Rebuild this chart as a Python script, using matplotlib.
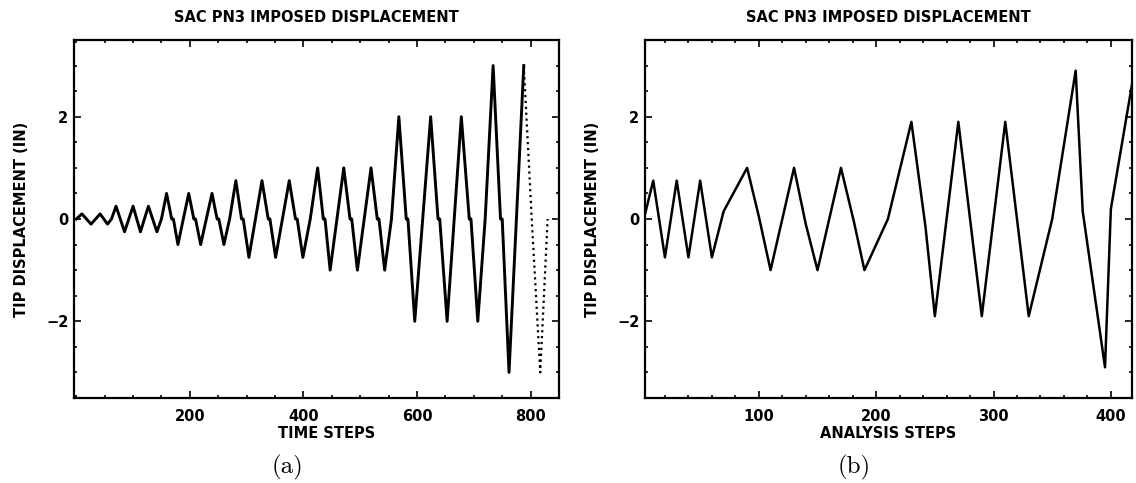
import numpy as np
import matplotlib.pyplot as plt
from matplotlib.ticker import MultipleLocator

# ===== data =====

# (a) imposed tip displacement vs time step (solid part)
time_steps = [0, 10, 26, 42, 55, 62, 70, 85, 100, 113, 127, 142, 150,
              159, 168, 171, 179, 198, 207, 210, 219, 239, 248, 251, 260, 270,
              281, 291, 294, 304, 327, 338, 341, 351, 375, 386, 389, 399, 412,
              425, 435, 438, 447, 471, 482, 485, 495, 519, 530, 533, 543, 555,
              568, 581, 584, 596, 624, 637, 640, 653, 678, 692, 695, 707, 720,
              734, 747, 750, 762, 775, 788]
tip_disp = [0, 0.1, -0.1, 0.1, -0.1, 0, 0.25, -0.25, 0.25, -0.25, 0.25, -0.25, 0,
            0.5, 0, 0, -0.5, 0.5, 0, 0, -0.5, 0.5, 0, 0, -0.5, 0,
            0.75, 0, 0, -0.75, 0.75, 0, 0, -0.75, 0.75, 0, 0, -0.75, 0,
            1.0, 0, 0, -1.0, 1.0, 0, 0, -1.0, 1.0, 0, 0, -1.0, 0,
            2.0, 0, 0, -2.0, 2.0, 0, 0, -2.0, 2.0, 0, 0, -2.0, 0,
            3.0, 0, 0, -3.0, 0, 3.0]
# last cycle, drawn dotted
time_steps_end = [788, 802, 817, 830]
tip_disp_end = [3.0, 0, -3.0, 0]

# (b) imposed tip displacement vs analysis step
analysis_steps = [2, 10, 20, 30, 40, 50, 60, 70, 90, 100, 110, 130, 140, 150,
                  170, 181, 190, 210, 230, 242, 250, 270, 290, 310, 330, 350,
                  370, 376, 395, 400, 420]
tip_disp_b = [0, 0.75, -0.75, 0.75, -0.75, 0.75, -0.75, 0.15, 1.0, 0.05, -1.0,
              1.0, -0.1, -1.0, 1.0, -0.05, -1.0, 0, 1.9, -0.15, -1.9, 1.9, -1.9,
              1.9, -1.9, 0, 2.9, 0.15, -2.9, 0.2, 2.9]

title = 'SAC PN3 IMPOSED DISPLACEMENT'
ylabel = 'TIP DISPLACEMENT (IN)'

# ===== figure =====

W, H = 1136, 483
fig = plt.figure(figsize=(W / 100, H / 100), dpi=100)

tfont = dict(family='DejaVu Sans', weight='bold', size=10.5)


def setup(ax, xlim, xminor, xticks, xlabel, xlab_x):
    ax.set_xlim(*xlim)
    ax.set_ylim(-3.5, 3.5)
    ax.set_xticks(xticks)
    ax.xaxis.set_minor_locator(MultipleLocator(xminor))
    ax.set_yticks([-2, 0, 2])
    ax.yaxis.set_minor_locator(MultipleLocator(0.5))
    ax.tick_params(which='both', direction='in', top=True, right=True,
                   width=1.2, labelsize=10.5)
    ax.tick_params(which='major', length=5)
    ax.tick_params(which='minor', length=2.5)
    ax.tick_params(axis='x', pad=8)
    ax.tick_params(axis='y', pad=4)
    for lab in ax.get_xticklabels() + ax.get_yticklabels():
        lab.set_fontweight('bold')
    for sp in ax.spines.values():
        sp.set_linewidth(1.6)
    ax.set_title(title, pad=13, **tfont)
    ax.set_xlabel(xlabel, labelpad=1, **tfont)
    ax.set_ylabel(ylabel, **tfont)
    ax.xaxis.set_label_coords(xlab_x, -0.078)
    ax.yaxis.set_label_coords(-0.093, 0.5)


ax1 = fig.add_axes([74 / W, 1 - 398 / H, 485 / W, 358 / H])
ax1.plot(time_steps, tip_disp, color='black', lw=2.1)
ax1.plot(time_steps_end, tip_disp_end, color='black', lw=1.6, ls=':')
setup(ax1, (-4, 850), 50, [200, 400, 600, 800], 'TIME STEPS', 0.52)

ax2 = fig.add_axes([645 / W, 1 - 398 / H, 487 / W, 358 / H])
ax2.plot(analysis_steps, tip_disp_b, color='black', lw=1.8)
setup(ax2, (3, 418), 20, [100, 200, 300, 400], 'ANALYSIS STEPS', 0.5)

fig.text(288 / W, 1 - 467 / H, '(a)', family='cmr10', size=18,
         ha='center', va='center')
fig.text(854 / W, 1 - 467 / H, '(b)', family='cmr10', size=18,
         ha='center', va='center')

fig.savefig('out.png', dpi=100)
